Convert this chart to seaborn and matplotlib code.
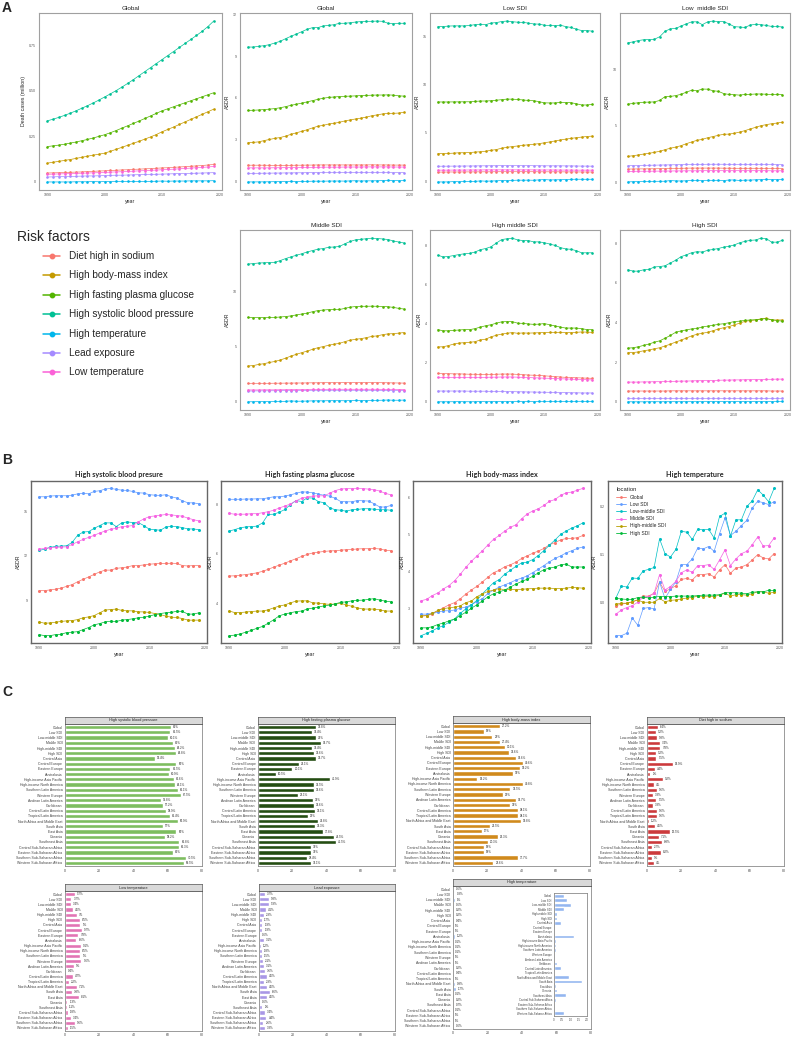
import seaborn as sns
import matplotlib.pyplot as plt
import pandas as pd
from matplotlib.lines import Line2D

# ---------------- data ----------------
years = list(range(1990, 2020))
locations = ['Global', 'Low SDI', 'Low-middle SDI', 'Middle SDI', 'High-middle SDI', 'High SDI']
loc_colors = ['#F8766D', '#619CFF', '#00BFC4', '#F564E3', '#B79F00', '#00BA38']
risks = ['Diet high in sodium', 'High body-mass index', 'High fasting plasma glucose',
         'High systolic blood pressure', 'High temperature', 'Lead exposure', 'Low temperature']
risk_colors = ['#F8766D', '#C49A00', '#53B400', '#00C094', '#00B6EB', '#A58AFF', '#FB61D7']

# global death cases (million)
deaths_sodium = [0.049, 0.05, 0.051, 0.052, 0.053, 0.054, 0.055, 0.057, 0.058, 0.06, 0.061, 0.063, 0.064, 0.066, 0.067,
                 0.069, 0.07, 0.072, 0.073, 0.075, 0.077, 0.078, 0.08, 0.082, 0.084, 0.086, 0.088, 0.09, 0.093, 0.096]
deaths_bmi = [0.103, 0.108, 0.113, 0.118, 0.123, 0.129, 0.135, 0.141, 0.147, 0.152, 0.158, 0.168, 0.179, 0.19, 0.201,
              0.212, 0.223, 0.235, 0.247, 0.26, 0.275, 0.288, 0.301, 0.315, 0.329, 0.343, 0.357, 0.371, 0.385, 0.399]
deaths_fpg = [0.194, 0.198, 0.202, 0.207, 0.213, 0.219, 0.226, 0.233, 0.241, 0.25, 0.259, 0.27, 0.282, 0.295, 0.308,
              0.321, 0.334, 0.348, 0.362, 0.376, 0.39, 0.401, 0.412, 0.423, 0.434, 0.445, 0.456, 0.467, 0.478, 0.489]
deaths_sbp = [0.335, 0.344, 0.354, 0.365, 0.377, 0.39, 0.404, 0.418, 0.433, 0.449, 0.466, 0.483, 0.501, 0.52, 0.54,
              0.561, 0.583, 0.605, 0.627, 0.649, 0.671, 0.693, 0.715, 0.737, 0.759, 0.781, 0.803, 0.826, 0.852, 0.882]
deaths_heat = [0.0, 0.0, 0.0, 0.0, 0.0, 0.001, 0.001, 0.001, 0.002, 0.001, 0.002, 0.002, 0.003, 0.003, 0.003,
               0.003, 0.003, 0.003, 0.003, 0.004, 0.005, 0.004, 0.005, 0.005, 0.005, 0.006, 0.006, 0.006, 0.006, 0.007]
deaths_lead = [0.027, 0.028, 0.029, 0.029, 0.03, 0.031, 0.032, 0.033, 0.033, 0.034, 0.035, 0.036, 0.037, 0.037, 0.038,
               0.039, 0.04, 0.041, 0.041, 0.042, 0.043, 0.044, 0.045, 0.046, 0.046, 0.047, 0.048, 0.049, 0.05, 0.051]
deaths_cold = [0.042, 0.043, 0.044, 0.045, 0.046, 0.047, 0.048, 0.049, 0.05, 0.051, 0.052, 0.054, 0.055, 0.056, 0.058,
               0.059, 0.061, 0.062, 0.064, 0.065, 0.067, 0.069, 0.07, 0.072, 0.074, 0.076, 0.078, 0.08, 0.082, 0.085]

# ASDR by location, one dict per risk factor
asdr_sbp = {
    'Global': [9.64, 9.64, 9.69, 9.74, 9.81, 9.93, 10.05, 10.24, 10.41, 10.57, 10.74, 10.91, 11.03, 11.03, 11.15,
               11.19, 11.24, 11.34, 11.34, 11.38, 11.43, 11.46, 11.48, 11.48, 11.5, 11.48, 11.34, 11.31, 11.34, 11.34],
    'Low SDI': [16.0, 16.0, 16.05, 16.07, 16.07, 16.07, 16.11, 16.2, 16.23, 16.2, 16.36, 16.41, 16.52, 16.57, 16.5,
                16.45, 16.43, 16.36, 16.27, 16.25, 16.14, 16.11, 16.09, 16.14, 16.0, 15.91, 15.73, 15.59, 15.59, 15.52],
    'Low-middle SDI': [12.36, 12.45, 12.57, 12.64, 12.66, 12.68, 12.91, 13.39, 13.61, 13.64, 13.86, 14.05, 14.23, 14.23,
                       13.98, 14.23, 14.3, 14.25, 14.25, 14.05, 13.8, 13.77, 13.73, 13.95, 14.0, 13.98, 13.91, 13.82,
                       13.82, 13.77],
    'Middle SDI': [12.45, 12.5, 12.55, 12.57, 12.59, 12.61, 12.77, 12.95, 13.11, 13.25, 13.39, 13.55, 13.68, 13.8, 13.86,
                   13.98, 14.0, 14.05, 14.3, 14.5, 14.66, 14.7, 14.75, 14.8, 14.77, 14.73, 14.68, 14.55, 14.45, 14.36],
    'High-middle SDI': [7.52, 7.43, 7.45, 7.5, 7.55, 7.59, 7.61, 7.68, 7.8, 7.86, 7.95, 8.14, 8.32, 8.36, 8.39, 8.3,
                        8.27, 8.27, 8.2, 8.2, 8.16, 8.09, 8.02, 7.91, 7.84, 7.82, 7.75, 7.64, 7.64, 7.64],
    'High SDI': [6.66, 6.59, 6.59, 6.66, 6.68, 6.8, 6.82, 6.86, 7.0, 7.14, 7.32, 7.41, 7.52, 7.57, 7.55, 7.64, 7.68,
                 7.73, 7.8, 7.84, 7.91, 8.02, 8.09, 8.14, 8.16, 8.25, 8.23, 8.05, 8.05, 8.14],
}
asdr_fpg = {
    'Global': [5.11, 5.12, 5.14, 5.17, 5.2, 5.24, 5.3, 5.38, 5.47, 5.55, 5.63, 5.72, 5.81, 5.9, 5.98, 6.04, 6.07,
               6.1, 6.12, 6.13, 6.15, 6.17, 6.18, 6.2, 6.21, 6.21, 6.22, 6.2, 6.15, 6.13],
    'Low SDI': [8.2, 8.2, 8.2, 8.21, 8.21, 8.22, 8.22, 8.26, 8.3, 8.3, 8.33, 8.38, 8.44, 8.5, 8.49, 8.46, 8.41, 8.36,
                8.33, 8.24, 8.11, 8.1, 8.1, 8.15, 8.14, 8.13, 8.02, 7.89, 7.89, 7.95],
    'Low-middle SDI': [6.92, 6.98, 7.05, 7.09, 7.1, 7.12, 7.25, 7.59, 7.6, 7.68, 7.79, 7.99, 8.15, 8.11, 8.26, 8.25,
                       8.11, 8.06, 7.86, 7.78, 7.76, 7.72, 7.78, 7.79, 7.82, 7.82, 7.8, 7.78, 7.78, 7.76],
    'Middle SDI': [7.63, 7.6, 7.6, 7.6, 7.62, 7.62, 7.66, 7.7, 7.76, 7.85, 7.93, 8.01, 8.14, 8.24, 8.29, 8.33, 8.34,
                   8.34, 8.44, 8.55, 8.61, 8.63, 8.63, 8.64, 8.63, 8.61, 8.59, 8.53, 8.44, 8.38],
    'High-middle SDI': [3.7, 3.64, 3.64, 3.66, 3.68, 3.7, 3.7, 3.75, 3.83, 3.9, 3.95, 4.03, 4.1, 4.11, 4.11, 4.03,
                        4.02, 3.99, 3.97, 3.98, 4.01, 3.95, 3.89, 3.83, 3.78, 3.78, 3.78, 3.75, 3.7, 3.7],
    'High SDI': [2.71, 2.73, 2.78, 2.85, 2.92, 3.01, 3.08, 3.21, 3.35, 3.51, 3.58, 3.63, 3.68, 3.7, 3.78, 3.82, 3.86,
                 3.91, 3.94, 3.99, 4.05, 4.07, 4.11, 4.13, 4.14, 4.17, 4.2, 4.14, 4.1, 4.07],
}
asdr_bmi = {
    'Global': [2.81, 2.82, 2.86, 2.95, 3.03, 3.11, 3.17, 3.27, 3.4, 3.51, 3.61, 3.73, 3.86, 3.98, 4.04, 4.14, 4.19,
               4.26, 4.36, 4.43, 4.5, 4.56, 4.63, 4.73, 4.79, 4.86, 4.9, 4.9, 4.92, 4.98],
    'Low SDI': [2.86, 2.86, 2.88, 2.91, 2.95, 2.95, 2.97, 3.02, 3.05, 3.11, 3.2, 3.28, 3.42, 3.51, 3.59, 3.65, 3.71,
                3.78, 3.83, 3.89, 3.98, 4.07, 4.17, 4.27, 4.36, 4.43, 4.51, 4.57, 4.63, 4.67],
    'Low-middle SDI': [2.28, 2.34, 2.41, 2.49, 2.55, 2.64, 2.73, 2.88, 3.0, 3.11, 3.23, 3.41, 3.56, 3.71, 3.79, 3.94,
                       4.04, 4.15, 4.24, 4.26, 4.33, 4.44, 4.57, 4.72, 4.86, 5.01, 5.1, 5.18, 5.24, 5.32],
    'Middle SDI': [3.22, 3.26, 3.36, 3.43, 3.54, 3.63, 3.76, 3.93, 4.12, 4.28, 4.43, 4.57, 4.73, 4.88, 4.98, 5.1, 5.2,
                   5.27, 5.43, 5.56, 5.64, 5.7, 5.79, 5.9, 5.95, 6.06, 6.13, 6.15, 6.2, 6.25],
    'High-middle SDI': [2.81, 2.82, 2.88, 2.96, 3.01, 3.03, 3.05, 3.08, 3.17, 3.21, 3.33, 3.41, 3.47, 3.51, 3.55, 3.51,
                        3.53, 3.52, 3.53, 3.54, 3.55, 3.56, 3.56, 3.56, 3.55, 3.55, 3.56, 3.58, 3.57, 3.56],
    'High SDI': [2.49, 2.49, 2.52, 2.58, 2.62, 2.68, 2.73, 2.82, 2.91, 3.02, 3.11, 3.22, 3.33, 3.41, 3.46, 3.51, 3.59,
                 3.67, 3.74, 3.8, 3.88, 3.97, 4.06, 4.1, 4.13, 4.19, 4.21, 4.13, 4.13, 4.13],
}
asdr_heat = {
    'Global': [-0.007, -0.004, -0.002, 0.001, 0.005, 0.013, 0.013, 0.019, 0.042, 0.023, 0.028, 0.035, 0.048, 0.05,
               0.047, 0.058, 0.058, 0.06, 0.053, 0.068, 0.079, 0.061, 0.072, 0.074, 0.079, 0.089, 0.1, 0.093, 0.091,
               0.102],
    'Low SDI': [-0.07, -0.07, -0.065, -0.033, -0.048, -0.013, -0.011, -0.014, 0.042, 0.008, 0.027, 0.043, 0.079,
                0.079, 0.091, 0.114, 0.112, 0.117, 0.107, 0.144, 0.177, 0.14, 0.149, 0.161, 0.172, 0.198, 0.212,
                0.209, 0.205, 0.211],
    'Low-middle SDI': [0.009, 0.034, 0.032, 0.051, 0.05, 0.066, 0.069, 0.073, 0.133, 0.102, 0.095, 0.111, 0.149,
                       0.147, 0.132, 0.153, 0.152, 0.153, 0.135, 0.18, 0.187, 0.139, 0.173, 0.173, 0.201, 0.213,
                       0.236, 0.225, 0.211, 0.239],
    'Middle SDI': [-0.025, -0.016, -0.011, -0.007, 0.0, 0.011, 0.012, 0.019, 0.058, 0.026, 0.033, 0.044, 0.062,
                   0.068, 0.063, 0.077, 0.077, 0.079, 0.069, 0.089, 0.11, 0.077, 0.091, 0.102, 0.107, 0.121, 0.137,
                   0.118, 0.119, 0.135],
    'High-middle SDI': [-0.004, -0.002, -0.002, 0.001, 0.005, 0.0, 0.0, 0.0, 0.008, 0.001, 0.004, 0.005, 0.007,
                        0.009, 0.01, 0.013, 0.012, 0.013, 0.012, 0.015, 0.019, 0.013, 0.016, 0.016, 0.015, 0.018,
                        0.022, 0.022, 0.019, 0.021],
    'High SDI': [0.008, 0.007, 0.006, 0.006, 0.01, 0.011, 0.009, 0.011, 0.012, 0.012, 0.012, 0.013, 0.013, 0.013,
                 0.013, 0.014, 0.015, 0.015, 0.015, 0.016, 0.02, 0.02, 0.02, 0.019, 0.018, 0.021, 0.022, 0.022,
                 0.025, 0.025],
}
asdr_sodium = {
    'Global': [1.19, 1.19, 1.19, 1.19, 1.18, 1.18, 1.18, 1.18, 1.18, 1.19, 1.19, 1.2, 1.2, 1.21, 1.21, 1.21, 1.21,
               1.21, 1.21, 1.21, 1.21, 1.21, 1.21, 1.22, 1.21, 1.21, 1.21, 1.2, 1.2, 1.2],
    'Low SDI': [0.95, 0.95, 0.96, 0.96, 0.96, 0.97, 0.97, 0.97, 0.98, 0.98, 0.98, 0.99, 0.99, 0.99, 0.99, 0.99, 0.99,
                0.99, 0.99, 0.98, 0.98, 0.98, 0.98, 0.98, 0.97, 0.97, 0.97, 0.96, 0.96, 0.96],
    'Low-middle SDI': [1.15, 1.16, 1.17, 1.17, 1.18, 1.18, 1.19, 1.2, 1.21, 1.21, 1.22, 1.23, 1.24, 1.24, 1.24, 1.24,
                       1.24, 1.24, 1.23, 1.23, 1.22, 1.22, 1.22, 1.22, 1.22, 1.22, 1.21, 1.21, 1.21, 1.2],
    'Middle SDI': [1.65, 1.65, 1.65, 1.65, 1.65, 1.66, 1.66, 1.67, 1.67, 1.68, 1.68, 1.69, 1.7, 1.7, 1.71, 1.71, 1.71,
                   1.71, 1.72, 1.72, 1.72, 1.72, 1.72, 1.72, 1.71, 1.71, 1.7, 1.69, 1.68, 1.67],
    'High-middle SDI': [1.45, 1.44, 1.44, 1.43, 1.43, 1.42, 1.41, 1.41, 1.4, 1.4, 1.4, 1.41, 1.42, 1.42, 1.42, 1.4,
                        1.39, 1.37, 1.36, 1.35, 1.33, 1.31, 1.29, 1.27, 1.25, 1.24, 1.23, 1.22, 1.21, 1.2],
    'High SDI': [0.55, 0.55, 0.55, 0.55, 0.55, 0.55, 0.55, 0.55, 0.56, 0.56, 0.56, 0.56, 0.56, 0.56, 0.56, 0.56,
                 0.56, 0.56, 0.56, 0.56, 0.56, 0.56, 0.56, 0.56, 0.56, 0.56, 0.56, 0.55, 0.55, 0.55],
}
asdr_lead = {
    'Global': [0.6, 0.61, 0.61, 0.62, 0.62, 0.63, 0.63, 0.64, 0.64, 0.65, 0.65, 0.66, 0.66, 0.66, 0.67, 0.67, 0.67,
               0.67, 0.67, 0.67, 0.67, 0.67, 0.67, 0.67, 0.67, 0.67, 0.67, 0.66, 0.66, 0.66],
    'Low SDI': [1.55, 1.56, 1.56, 1.57, 1.57, 1.58, 1.58, 1.59, 1.6, 1.6, 1.61, 1.61, 1.62, 1.62, 1.62, 1.62, 1.62,
                1.62, 1.61, 1.61, 1.6, 1.6, 1.6, 1.6, 1.59, 1.59, 1.58, 1.57, 1.57, 1.56],
    'Low-middle SDI': [1.45, 1.46, 1.47, 1.48, 1.49, 1.5, 1.51, 1.52, 1.53, 1.54, 1.55, 1.56, 1.57, 1.57, 1.57, 1.58,
                       1.58, 1.58, 1.58, 1.57, 1.57, 1.57, 1.57, 1.57, 1.57, 1.57, 1.56, 1.56, 1.55, 1.55],
    'Middle SDI': [0.95, 0.96, 0.97, 0.97, 0.98, 0.98, 0.99, 0.99, 1.0, 1.0, 1.01, 1.01, 1.02, 1.02, 1.02, 1.02, 1.02,
                   1.02, 1.02, 1.02, 1.02, 1.02, 1.02, 1.02, 1.01, 1.01, 1.01, 1.0, 1.0, 1.0],
    'High-middle SDI': [0.55, 0.55, 0.55, 0.55, 0.55, 0.55, 0.54, 0.54, 0.54, 0.54, 0.53, 0.53, 0.53, 0.52, 0.52,
                        0.51, 0.51, 0.5, 0.5, 0.49, 0.49, 0.48, 0.48, 0.47, 0.47, 0.46, 0.46, 0.45, 0.45, 0.45],
    'High SDI': [0.2, 0.2, 0.2, 0.2, 0.2, 0.2, 0.2, 0.2, 0.2, 0.2, 0.2, 0.2, 0.2, 0.2, 0.2, 0.2, 0.2, 0.2, 0.2, 0.2,
                 0.2, 0.2, 0.2, 0.2, 0.2, 0.2, 0.2, 0.2, 0.2, 0.2],
}
asdr_cold = {
    'Global': [1.0, 1.0, 1.0, 1.0, 1.0, 1.01, 1.01, 1.02, 1.02, 1.02, 1.03, 1.03, 1.04, 1.04, 1.05, 1.05, 1.05, 1.05,
               1.06, 1.06, 1.06, 1.06, 1.07, 1.07, 1.07, 1.07, 1.07, 1.06, 1.06, 1.06],
    'Low SDI': [1.15, 1.15, 1.15, 1.16, 1.16, 1.16, 1.17, 1.17, 1.17, 1.18, 1.18, 1.18, 1.18, 1.18, 1.18, 1.18, 1.18,
                1.18, 1.18, 1.17, 1.17, 1.17, 1.17, 1.16, 1.16, 1.16, 1.15, 1.15, 1.15, 1.15],
    'Low-middle SDI': [0.95, 0.95, 0.96, 0.96, 0.96, 0.97, 0.97, 0.98, 0.98, 0.99, 0.99, 1.0, 1.0, 1.0, 1.01, 1.01,
                       1.01, 1.01, 1.01, 1.01, 1.01, 1.01, 1.01, 1.01, 1.01, 1.01, 1.01, 1.0, 1.0, 1.0],
    'Middle SDI': [1.05, 1.05, 1.05, 1.06, 1.06, 1.06, 1.07, 1.07, 1.08, 1.08, 1.09, 1.09, 1.1, 1.1, 1.1, 1.11, 1.11,
                   1.11, 1.11, 1.11, 1.11, 1.11, 1.11, 1.11, 1.11, 1.1, 1.1, 1.1, 1.09, 1.09],
    'High-middle SDI': [1.25, 1.25, 1.25, 1.25, 1.25, 1.25, 1.25, 1.25, 1.25, 1.25, 1.26, 1.26, 1.27, 1.27, 1.27,
                        1.26, 1.25, 1.24, 1.23, 1.22, 1.21, 1.2, 1.19, 1.18, 1.17, 1.16, 1.15, 1.14, 1.13, 1.12],
    'High SDI': [1.0, 1.0, 1.0, 1.01, 1.01, 1.02, 1.02, 1.03, 1.03, 1.04, 1.05, 1.05, 1.06, 1.07, 1.07, 1.08, 1.08,
                 1.09, 1.1, 1.1, 1.11, 1.11, 1.12, 1.12, 1.13, 1.13, 1.14, 1.14, 1.15, 1.15],
}

# percentage of ASDR attributable, 2019, by region
regions = ['Global', 'Low SDI', 'Low-middle SDI', 'Middle SDI', 'High-middle SDI', 'High SDI', 'Central Asia',
           'Central Europe', 'Eastern Europe', 'Australasia', 'High-income Asia Pacific', 'High-income North America',
           'Southern Latin America', 'Western Europe', 'Andean Latin America', 'Caribbean', 'Central Latin America',
           'Tropical Latin America', 'North Africa and Middle East', 'South Asia', 'East Asia', 'Oceania',
           'Southeast Asia', 'Central Sub-Saharan Africa', 'Eastern Sub-Saharan Africa', 'Southern Sub-Saharan Africa',
           'Western Sub-Saharan Africa']
pct_sbp = [62.0, 61.5, 60.1, 63.0, 64.2, 64.8, 52.4, 65.0, 61.5, 60.9, 63.6, 64.1, 66.1, 67.5, 55.8, 57.2, 58.9,
           61.4, 65.9, 57.0, 65.0, 58.2, 66.8, 66.3, 63.0, 70.5, 69.5]
pct_fpg = [33.8, 31.4, 34.0, 36.7, 31.4, 32.6, 33.7, 24.1, 20.1, 10.5, 41.9, 32.5, 32.6, 23.1, 32.0, 32.6, 33.1,
           29.0, 34.8, 33.3, 37.8, 44.5, 45.5, 31.0, 31.0, 28.4, 31.1]
pct_bmi = [27.2, 18.0, 23.0, 27.4, 30.1, 32.6, 36.6, 40.6, 39.2, 35.0, 14.2, 40.8, 33.5, 29.0, 36.7, 33.0, 38.1,
           38.1, 39.8, 21.5, 17.0, 26.3, 20.3, 18.0, 18.0, 37.7, 23.6]
pct_sodium = [6.4, 5.2, 5.8, 7.4, 7.8, 5.2, 5.5, 14.9, 4.4, 2.0, 9.2, 4.0, 5.6, 3.3, 5.5, 3.3, 5.6, 5.6, 1.2, 4.6,
              13.5, 7.1, 8.8, 2.7, 8.2, 3.0, 4.0]
pct_cold = [5.7, 3.7, 3.4, 4.6, 7.0, 8.5, 9.0, 9.7, 7.8, 6.6, 9.1, 8.5, 9.0, 9.6, 5.0, 0.4, 4.7, 2.2, 7.1, 3.8, 8.1,
            1.3, 1.1, 1.8, 3.4, 5.6, 1.5]
pct_lead = [3.7, 5.8, 5.9, 4.1, 2.9, 1.7, 1.9, 1.9, 0.6, 3.1, 1.2, 1.8, 1.5, 2.1, 3.1, 3.6, 4.6, 2.9, 4.6, 6.6, 4.6,
            0.6, 2.0, 3.4, 4.4, 2.6, 3.3]
pct_heat = [0.6, 0.8, 1.0, 0.6, 0.2, 0.2, 0.4, 0.0, 0.0, 1.2, 0.1, 0.1, 0.1, 0.0, 0.0, 0.2, 0.4, 0.0, 0.9, 1.7,
            0.1, 0.2, 0.7, 0.1, 0.0, 0.0, 0.6]

# ---------------- long tables ----------------
risk_tables = dict(zip(risks, [asdr_sodium, asdr_bmi, asdr_fpg, asdr_sbp, asdr_heat, asdr_lead, asdr_cold]))
rows = []
for loc in locations:
    for risk in risks:
        for yr, v in zip(years, risk_tables[risk][loc]):
            rows.append((loc, risk, yr, v))
asdr = pd.DataFrame(rows, columns=['location', 'risk', 'year', 'value'])

death_lists = [deaths_sodium, deaths_bmi, deaths_fpg, deaths_sbp, deaths_heat, deaths_lead, deaths_cold]
deaths = pd.DataFrame([(r, yr, v) for r, lst in zip(risks, death_lists) for yr, v in zip(years, lst)],
                      columns=['risk', 'year', 'value'])

# ---------------- figure ----------------
sns.set_style('white')
plt.rcParams['font.family'] = ['Liberation Sans', 'DejaVu Sans']

W, H = 792, 1037
fig = plt.figure(figsize=(W / 100, H / 100), dpi=100)


def box(x0, y0, x1, y1):
    return fig.add_axes([x0 / W, 1 - y1 / H, (x1 - x0) / W, (y1 - y0) / H])


def trend(ax, df, hue, order, colors, title, ylabel, yticks, ylabels, big=False):
    sns.lineplot(data=df, x='year', y='value', hue=hue, hue_order=order, palette=dict(zip(order, colors)),
                 marker='o', markersize=1.9 if not big else 2.2, markeredgewidth=0, linewidth=0.5,
                 legend=False, ax=ax, estimator=None)
    lo, hi = df['value'].min(), df['value'].max()
    r = hi - lo
    ax.set_xlim(1988.55, 2020.45)
    ax.set_ylim(lo - 0.05 * r, hi + 0.05 * r)
    ax.set_xticks([1990, 2000, 2010, 2020])
    ax.set_xticklabels(['1990', '2000', '2010', '2020'])
    keep = [(t, l) for t, l in zip(yticks, ylabels) if lo - 0.05 * r <= t <= hi + 0.05 * r]
    ax.set_yticks([t for t, _ in keep])
    ax.set_yticklabels([l for _, l in keep])
    ax.tick_params(labelsize=2.6, length=1.5, width=0.4, pad=1, colors='#555555')
    ax.set_xlabel('year', fontsize=3.8, labelpad=1)
    ax.set_ylabel(ylabel, fontsize=3.8, labelpad=1.5)
    if big:
        ax.set_title(title, fontsize=5.2, pad=3, fontweight='bold', family=['Lato', 'DejaVu Sans'])
        for s in ax.spines.values():
            s.set_color('#666666')
            s.set_linewidth(1.0)
    else:
        ax.set_title(title, fontsize=4.6, pad=2)
        for s in ax.spines.values():
            s.set_color('#a0a0a0')
            s.set_linewidth(0.8)


# ---- panel A ----
fig.text(2 / W, 1 - 8 / H, 'A', fontsize=10, fontweight='bold', va='center')
ax = box(39, 13, 222, 190)
trend(ax, deaths, 'risk', risks, risk_colors, 'Global', 'Death cases (million)',
      [0, 0.25, 0.5, 0.75], ['0', '0.25', '0.50', '0.75'])

a_boxes = [(240, 13, 412, 190), (430, 13, 600, 190), (620, 13, 790, 190),
           (240, 230, 412, 410), (430, 230, 600, 410), (620, 230, 790, 410)]
a_titles = ['Global', 'Low SDI', 'Low  middle SDI', 'Middle SDI', 'High middle SDI', 'High SDI']
a_ticks = [[0, 3, 6, 9, 12], [0, 5, 10, 15], [0, 5, 10], [0, 5, 10], [0, 2, 4, 6, 8], [0, 2, 4, 6, 8]]
for loc, b, t, tk in zip(locations, a_boxes, a_titles, a_ticks):
    ax = box(*b)
    trend(ax, asdr[asdr['location'] == loc], 'risk', risks, risk_colors, t, 'ASDR', tk, [str(v) for v in tk])

# legend for panel A
fig.text(17 / W, 1 - 237 / H, 'Risk factors', fontsize=10, va='center')
for i, (r, c) in enumerate(zip(risks, risk_colors)):
    yy = 1 - (256 + i * 19.4) / H
    fig.add_artist(Line2D([43 / W, 60 / W], [yy, yy], color=c, lw=1.1))
    fig.add_artist(Line2D([51.5 / W], [yy], color=c, marker='o', markersize=3.2, lw=0))
    fig.text(69 / W, yy, r, fontsize=7.2, va='center')

# ---- panel B ----
fig.text(2 / W, 1 - 460 / H, 'B', fontsize=10, fontweight='bold', va='center')
b_boxes = [(31, 481, 207, 643), (221, 481, 399, 643), (413, 481, 591, 643), (608, 481, 782, 643)]
b_risks = ['High systolic blood pressure', 'High fasting plasma glucose', 'High body-mass index', 'High temperature']
b_titles = ['High systolic blood presure', 'High fasting plasma glucose', 'High body-mass index', 'High temperature']
b_ticks = [([9, 12, 15], ['9', '12', '15']), ([4, 6, 8], ['4', '6', '8']),
           ([3, 4, 5, 6], ['3', '4', '5', '6']), ([0, 0.1, 0.2], ['0.0', '0.1', '0.2'])]
for r, b, t, (tk, tl) in zip(b_risks, b_boxes, b_titles, b_ticks):
    ax = box(*b)
    trend(ax, asdr[asdr['risk'] == r], 'location', locations, loc_colors, t, 'ASDR', tk, tl, big=True)
handles = [Line2D([], [], color=c, marker='o', markersize=2, markeredgewidth=0, lw=0.6) for c in loc_colors]
leg = ax.legend(handles, locations, title='location', loc='upper left', frameon=False, fontsize=3.5,
                title_fontsize=4.2, handlelength=2.0, handletextpad=0.8, labelspacing=0.45,
                borderaxespad=0.6, bbox_to_anchor=(0.02, 0.99))
leg._legend_box.align = 'left'

# ---- panel C ----
fig.text(2 / W, 1 - 692 / H, 'C', fontsize=10, fontweight='bold', va='center')


def bars(x0, x1, y_strip, y0, y1, values, color, title):
    ax = box(x0, y0, x1, y1)
    sns.barplot(x=values, y=regions, color=color, orient='h', width=0.8, saturation=1, ax=ax)
    ax.set_xlim(0, 80)
    ax.set_ylim(len(regions) - 0.4, -0.6)
    ax.set_xticks([0, 20, 40, 60, 80])
    ax.set_xlabel('')
    ax.set_ylabel('')
    ax.tick_params(labelsize=2.5, length=1, width=0.3, pad=0.8, colors='#444444')
    ax.bar_label(ax.containers[0], labels=[f'{v:g}%' for v in values], padding=1.5, fontsize=2.1)
    for s in ax.spines.values():
        s.set_color('#8a8a8a')
        s.set_linewidth(0.6)
    st = box(x0, y_strip, x1, y0)
    st.set_facecolor('#d9d9d9')
    st.set_xticks([])
    st.set_yticks([])
    for s in st.spines.values():
        s.set_color('#555555')
        s.set_linewidth(0.5)
    st.text(0.5, 0.5, title, ha='center', va='center', fontsize=2.8, transform=st.transAxes)
    return ax


bars(65, 202, 717, 724, 866, pct_sbp, '#7dbd5f', 'High systolic blood pressure')
bars(258, 395, 717, 724, 866, pct_fpg, '#244d12', 'High fasting plasma glucose')
bars(453, 590, 716, 723, 866, pct_bmi, '#d08a1c', 'High body-mass index')
bars(647, 784, 717, 724, 866, pct_sodium, '#cc3a3c', 'Diet high in sodium')
bars(65, 202, 884, 891, 1031, pct_cold, '#e274b4', 'Low temperature')
bars(259, 395, 884, 891, 1031, pct_lead, '#a997e6', 'Lead exposure')
bars(453, 591, 879, 886, 1029, pct_heat, '#94b6f0', 'High temperature')

# zoomed inset for high temperature
ins = box(554, 893, 587, 1016)
sns.barplot(x=pct_heat, y=regions, color='#94b6f0', orient='h', width=0.8, saturation=1, ax=ins)
ins.set_xlim(0, 2)
ins.set_ylim(len(regions) - 0.4, -0.6)
ins.set_xticks([0, 0.5, 1, 1.5, 2])
ins.set_xticklabels(['0', '0.5', '1.0', '1.5', '2.0'])
ins.set_xlabel('')
ins.set_ylabel('')
ins.tick_params(labelsize=2.0, length=1, width=0.3, pad=0.6, colors='#444444')
for s in ins.spines.values():
    s.set_color('#8a8a8a')
    s.set_linewidth(0.6)

fig.savefig('out.png', dpi=100)
